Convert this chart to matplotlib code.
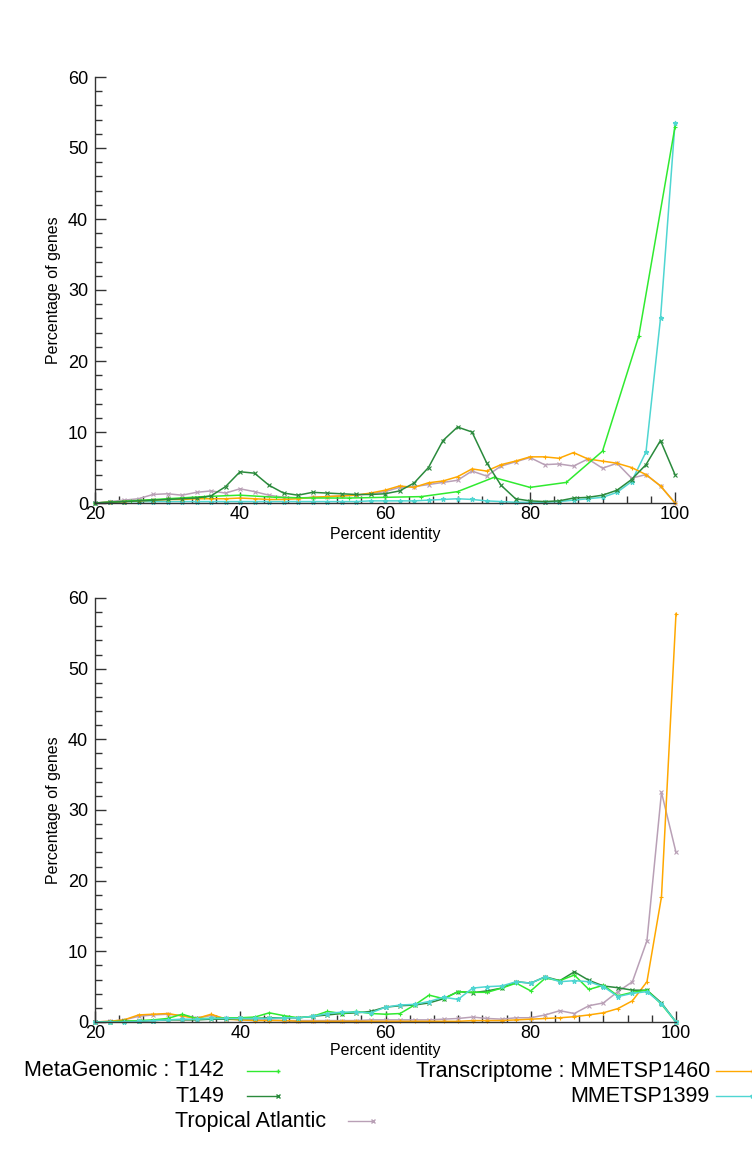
import matplotlib
matplotlib.use("Agg")
import matplotlib.pyplot as plt
from matplotlib.lines import Line2D
from matplotlib.ticker import MultipleLocator, FixedLocator

plt.rcParams['font.family'] = ['Liberation Sans', 'DejaVu Sans']

# ---------------- data ----------------
x2 = [20, 22, 24, 26, 28, 30, 32, 34, 36, 38,
      40, 42, 44, 46, 48, 50, 52, 54, 56, 58,
      60, 62, 64, 66, 68, 70, 72, 74, 76, 78,
      80, 82, 84, 86, 88, 90, 92, 94, 96, 98, 100]
x5 = [20, 25, 30, 35, 40, 45, 50, 55, 60, 65, 70, 75, 80, 85, 90, 95, 100]

# top panel
top_T142 = [0.0, 0.3, 0.6, 0.9, 1.1, 0.8, 0.7, 0.7, 0.8, 0.9, 1.6, 3.6, 2.2, 2.9, 7.3, 23.5, 53.0]
top_T149 = [0.0, 0.1, 0.2, 0.3, 0.4, 0.5, 0.6, 0.7, 1.0, 2.3,
            4.4, 4.2, 2.5, 1.4, 1.1, 1.5, 1.4, 1.3, 1.2, 1.2,
            1.3, 1.7, 2.8, 5.0, 8.8, 10.7, 10.0, 5.7, 2.5, 0.6,
            0.3, 0.2, 0.3, 0.7, 0.8, 1.1, 1.8, 3.3, 5.4, 8.8, 4.0]
top_trop = [0.0, 0.2, 0.4, 0.6, 1.2, 1.3, 1.1, 1.5, 1.7, 1.4,
            2.0, 1.6, 1.1, 0.8, 0.7, 0.8, 0.9, 1.0, 1.1, 1.3,
            1.6, 2.2, 2.3, 2.6, 2.9, 3.2, 4.5, 3.8, 5.2, 5.8,
            6.4, 5.4, 5.5, 5.2, 6.2, 4.9, 5.6, 3.5, 4.0, 2.4, 0.0]
top_1460 = [0.0, 0.1, 0.2, 0.3, 0.4, 0.5, 0.5, 0.6, 0.6, 0.6,
            0.7, 0.6, 0.5, 0.5, 0.6, 0.8, 0.9, 1.0, 1.1, 1.4,
            1.8, 2.4, 2.2, 2.85, 3.1, 3.7, 4.8, 4.5, 5.4, 5.9,
            6.5, 6.5, 6.3, 7.1, 6.2, 5.9, 5.6, 5.0, 4.0, 2.4, 0.0]
top_1399 = [0.0, 0.1, 0.2, 0.2, 0.2, 0.2, 0.2, 0.2, 0.2, 0.2,
            0.2, 0.2, 0.2, 0.2, 0.2, 0.2, 0.2, 0.2, 0.2, 0.3,
            0.3, 0.3, 0.3, 0.4, 0.5, 0.6, 0.5, 0.3, 0.2, 0.1,
            0.1, 0.1, 0.2, 0.4, 0.6, 0.8, 1.5, 3.0, 7.2, 26.0, 53.5]

# bottom panel
bot_T142 = [0.0, 0.05, 0.1, 0.2, 0.3, 0.5, 1.1, 0.5, 0.5, 0.6,
            0.6, 0.7, 1.3, 0.9, 0.6, 0.8, 1.5, 1.2, 1.5, 1.2,
            1.1, 1.2, 2.4, 3.8, 3.3, 4.3, 4.2, 4.2, 4.8, 5.5,
            4.4, 6.2, 5.85, 6.65, 4.6, 5.2, 3.7, 4.2, 4.5, 2.5, 0.0]
bot_T149 = [0.0, 0.0, 0.1, 0.1, 0.2, 0.3, 0.3, 0.3, 0.4, 0.4,
            0.5, 0.5, 0.6, 0.6, 0.6, 0.8, 1.0, 1.2, 1.3, 1.5,
            2.1, 2.3, 2.4, 2.7, 3.3, 4.3, 4.15, 4.4, 4.8, 5.7,
            5.5, 6.4, 5.85, 7.1, 5.9, 5.1, 4.85, 4.5, 4.5, 2.7, 0.0]
bot_trop = [0.0, 0.1, 0.3, 0.8, 1.0, 1.1, 0.9, 0.6, 0.9, 0.5,
            0.3, 0.3, 0.3, 0.2, 0.2, 0.2, 0.2, 0.2, 0.2, 0.3,
            0.3, 0.3, 0.3, 0.3, 0.4, 0.5, 0.7, 0.5, 0.4, 0.6,
            0.6, 1.0, 1.6, 1.2, 2.3, 2.7, 4.3, 5.7, 11.5, 32.5, 24.0]
bot_1460 = [0.0, 0.1, 0.3, 1.0, 1.1, 1.2, 0.85, 0.5, 1.1, 0.4,
            0.3, 0.2, 0.2, 0.2, 0.1, 0.1, 0.1, 0.1, 0.1, 0.1,
            0.1, 0.1, 0.1, 0.1, 0.1, 0.1, 0.2, 0.2, 0.2, 0.3,
            0.4, 0.5, 0.6, 0.75, 1.0, 1.3, 1.9, 3.0, 5.7, 17.7, 57.8]
bot_1399 = [0.0, 0.0, 0.0, 0.1, 0.2, 0.3, 0.4, 0.4, 0.5, 0.5,
            0.5, 0.5, 0.5, 0.6, 0.6, 0.8, 1.2, 1.4, 1.4, 1.3,
            2.1, 2.4, 2.5, 2.9, 3.5, 3.2, 4.8, 5.0, 5.1, 5.7,
            5.5, 6.4, 5.7, 5.85, 5.7, 5.0, 3.6, 4.05, 4.3, 2.6, 0.0]

x_ticks = [20, 40, 60, 80, 100]
y_ticks = [0, 10, 20, 30, 40, 50, 60]

# ---------------- styles ----------------
C_T142 = '#30ea30'
C_T149 = '#2a8a3c'
C_TROP = '#b9a0b6'
C_1460 = '#ffa800'
C_1399 = '#4fd6d2'

W, H = 752, 1150
fig = plt.figure(figsize=(W / 100, H / 100), dpi=100)


def box(l, t, r, b):
    return [l / W, 1 - b / H, (r - l) / W, (b - t) / H]


ax1 = fig.add_axes(box(95, 77, 675, 503))
ax2 = fig.add_axes(box(95, 598, 676, 1022))

lw = 1.1
ms = 3.5


def draw(ax, series):
    for xs, ys, c, m in series:
        ax.plot(xs, ys, color=c, lw=lw, marker=m, ms=ms, mew=0.8, clip_on=False)


draw(ax1, [
    (x2, top_1399, C_1399, '*'),
    (x2, top_trop, C_TROP, 'x'),
    (x2, top_1460, C_1460, '+'),
    (x5, top_T142, C_T142, '+'),
    (x2, top_T149, C_T149, 'x'),
])
draw(ax2, [
    (x2, bot_trop, C_TROP, 'x'),
    (x2, bot_1460, C_1460, '+'),
    (x2, bot_T149, C_T149, 'x'),
    (x2, bot_T142, C_T142, '+'),
    (x2, bot_1399, C_1399, '*'),
])

for ax in (ax1, ax2):
    ax.set_xlim(20, 100)
    ax.set_ylim(0, 60)
    for s in ('top', 'right'):
        ax.spines[s].set_visible(False)
    for s in ('left', 'bottom'):
        ax.spines[s].set_color('#333333')
        ax.spines[s].set_linewidth(1.0)
    ax.xaxis.set_major_locator(FixedLocator(x_ticks))
    ax.yaxis.set_major_locator(FixedLocator(y_ticks))
    ax.xaxis.set_minor_locator(MultipleLocator(20 / 6))
    ax.yaxis.set_minor_locator(MultipleLocator(2))
    ax.tick_params(which='both', direction='in', colors='#333333', labelcolor='black',
                   labelsize=13, width=1.0)
    ax.tick_params(axis='y', which='major', length=8, pad=5)
    ax.tick_params(axis='x', which='major', length=8, pad=2)
    ax.tick_params(which='minor', length=5)
    ax.set_ylabel('Percentage of genes', fontsize=11.5, labelpad=5)

ax1.set_xlabel('Percent identity', fontsize=11.5, labelpad=3)
ax2.set_xlabel('Percent identity', fontsize=11.5, labelpad=1)

# ---------------- legend (manual) ----------------
FS = 15.5


def legend_entry(text, tx, ty, lx0, lx1, color, marker, ha='right'):
    fig.text(tx / W, 1 - ty / H, text, ha=ha, va='center', fontsize=FS)
    fig.add_artist(Line2D([lx0 / W, lx1 / W], [1 - ty / H, 1 - ty / H],
                          transform=fig.transFigure, color=color, lw=1.0,
                          marker=marker, ms=3, markevery=[1]))


legend_entry('MetaGenomic : T142', 224, 1071, 247, 278, C_T142, '+')
legend_entry('T149', 224, 1096, 247, 278, C_T149, 'x')
legend_entry('Tropical Atlantic', 175, 1121, 348, 373, C_TROP, 'x', ha='left')
legend_entry('Transcriptome : MMETSP1460', 710, 1071, 716, 752, C_1460, '+')
legend_entry('MMETSP1399', 710, 1096, 716, 752, C_1399, '*')

fig.savefig('out.png', dpi=100)
